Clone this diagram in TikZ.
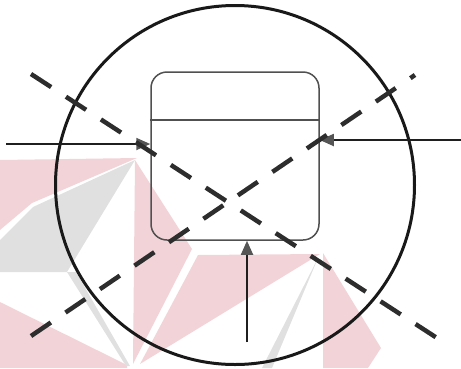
\documentclass[tikz,border=0pt]{standalone}
\usetikzlibrary{arrows.meta}
\definecolor{wmpink}{RGB}{242,212,216}
\definecolor{wmgray}{RGB}{224,224,224}
\definecolor{boxgray}{RGB}{80,80,80}
\definecolor{headgray}{RGB}{85,85,85}
\definecolor{dashgray}{RGB}{45,45,45}
\tikzset{
  wmp/.style={fill=wmpink, draw=none},
  wmg/.style={fill=wmgray, draw=none},
  bigcircle/.style={circle, draw=black!90, line width=3pt, minimum size=359pt, inner sep=0pt},
  statebox/.style={rectangle, rounded corners=16pt, draw=boxgray, line width=1.5pt, minimum width=168pt, minimum height=168pt, inner sep=0pt},
  flow/.style={line width=1.8pt, draw=black!88, -{Triangle[length=14pt,width=12pt,color=headgray]}},
  crossline/.style={line width=4.5pt, draw=dashgray, dash pattern=on 24pt off 17.7pt}
}
\begin{document}
\begin{tikzpicture}[x=1pt,y=-1pt]
\useasboundingbox (0,0) rectangle (461,368);
% watermark background
\fill[wmp] (0,160) -- (137,158) -- (32,203) -- (0,230) -- cycle;
\fill[wmg] (0,240) -- (33,207) -- (135,160) -- (67,272) -- (0,272) -- cycle;
\fill[wmp] (0,302) -- (127,365) -- (127,368) -- (0,368) -- cycle;
\fill[wmg] (67,272) -- (76,272) -- (130,366) -- (126,366) -- cycle;
\fill[wmp] (135,160) -- (192,249) -- (133,364) -- cycle;
\fill[wmp] (198,255) -- (320,254) -- (140,364) -- cycle;
\fill[wmg] (318,258) -- (262,368) -- (272,368) -- cycle;
\fill[wmp] (323,253) -- (381,348) -- (368,368) -- (323,368) -- cycle;
% main shapes
\node[bigcircle] (circ) at (235,185) {};
\node[statebox] (box) at (235,156) {};
\coordinate (hl) at (0,120);
\draw[line width=1.5pt, draw=boxgray] (hl -| box.west) -- (hl -| box.east);
% arrows
\coordinate (la) at (6,144);
\coordinate (ra) at (461,140);
\coordinate (ba) at (247,342);
\draw[flow] (la) -- (la -| box.west);
\draw[flow] (ra) -- (ra -| box.east);
\draw[flow] (ba) -- (ba |- box.south);
% dashed crossing lines
\coordinate (d1a) at (31,74);
\coordinate (d1b) at (437,338);
\coordinate (d2a) at (31,336);
\coordinate (d2b) at (415,75);
\draw[crossline] (d1a) -- (d1b);
\draw[crossline] (d2a) -- (d2b);
\end{tikzpicture}
\end{document}
